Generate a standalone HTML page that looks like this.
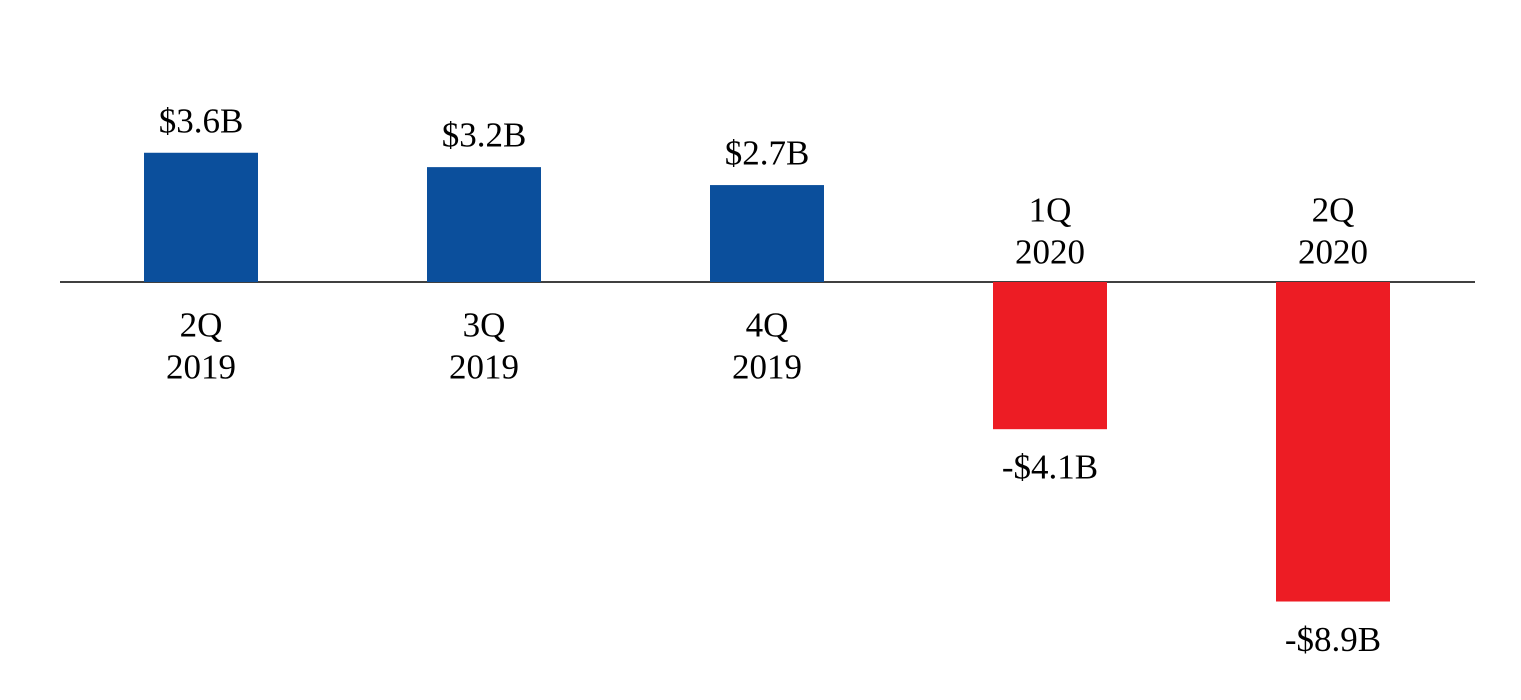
<!DOCTYPE html>
<html><head><meta charset="utf-8"><style>
html,body{margin:0;padding:0;background:#fff;}
svg{display:block;font-family:"Liberation Serif",serif;}
</style></head><body>
<svg id="chart" width="1521" height="700" viewBox="0 0 1521 700" xmlns="http://www.w3.org/2000/svg">
<line x1="60" y1="282" x2="1475" y2="282" stroke="#000" stroke-width="1.6"/>
</svg>
<script>
const quarters = ["2Q", "3Q", "4Q", "1Q", "2Q"];
const years = ["2019", "2019", "2019", "2020", "2020"];
const values = [3.6, 3.2, 2.7, -4.1, -8.9];
const valueLabels = ["$3.6B", "$3.2B", "$2.7B", "-$4.1B", "-$8.9B"];

const svg = document.getElementById('chart');
const NS = 'http://www.w3.org/2000/svg';
const baseY = 282, pxPerUnit = 35.9, firstX = 201, step = 283, barW = 114;
const xPos = i => firstX + i * step;
const yPos = v => baseY - v * pxPerUnit;

function txt(x, y, s) {
  const t = document.createElementNS(NS, 'text');
  t.setAttribute('x', x); t.setAttribute('y', y);
  t.setAttribute('text-anchor', 'middle');
  t.setAttribute('dominant-baseline', 'central');
  t.setAttribute('font-size', '35');
  t.setAttribute('fill', '#000');
  t.textContent = s;
  svg.appendChild(t);
  return t;
}

values.forEach((v, i) => {
  const cx = xPos(i);
  const y0 = yPos(Math.max(v, 0)), y1 = yPos(Math.min(v, 0));
  const r = document.createElementNS(NS, 'rect');
  r.setAttribute('x', cx - barW / 2); r.setAttribute('y', y0);
  r.setAttribute('width', barW); r.setAttribute('height', y1 - y0);
  r.setAttribute('fill', v >= 0 ? '#0b4f9c' : '#ed1c24');
  
  
  svg.appendChild(r);

  let lbl;
  if (v >= 0) {
    lbl = txt(cx, y0 - 32, valueLabels[i]);
  } else {
    lbl = txt(cx, y1 + 38, valueLabels[i]);
  }
  
  

  const qy = v >= 0 ? baseY + 43 : baseY - 72;
  const q = txt(cx, qy, quarters[i]);
  
  
  const yr = txt(cx, qy + 42, years[i]);
  
  
});
</script>
</body></html>
